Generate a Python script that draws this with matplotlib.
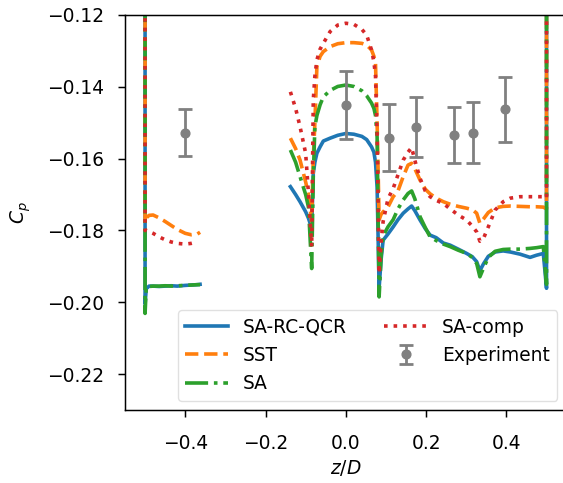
import numpy as np
import matplotlib
matplotlib.use("Agg")
import matplotlib.pyplot as plt

# Left face: vertical wall at z/D = -0.5 followed by the short plateau
z_left = [-0.5, -0.5, -0.497, -0.49, -0.48, -0.465, -0.45, -0.435, -0.42, -0.40, -0.385, -0.37, -0.363]
cp_left_sarc = [-0.10, -0.2005, -0.1962, -0.1955, -0.1955, -0.1956, -0.1955, -0.1954, -0.1955, -0.1953, -0.1952, -0.1951, -0.1950]
cp_left_sst = [-0.10, -0.1780, -0.1765, -0.1758, -0.1757, -0.1765, -0.1775, -0.1786, -0.1797, -0.1808, -0.1812, -0.1810, -0.1805]
cp_left_sa = [-0.10, -0.2031, -0.1958, -0.1956, -0.1955, -0.1955, -0.1954, -0.1955, -0.1954, -0.1953, -0.1952, -0.1951, -0.1951]
cp_left_comp = [-0.10, -0.1800, -0.1800, -0.1803, -0.1808, -0.1818, -0.1826, -0.1832, -0.1836, -0.1838, -0.1836, -0.1832, np.nan]

# Central section up to the wall at z/D = +0.5
z_mid = [-0.138, -0.125, -0.114, -0.100, -0.093, -0.085, -0.081, -0.077, -0.072, -0.064,
         -0.056, -0.039, -0.020, 0.000, 0.020, 0.040, 0.052, 0.064, 0.070, 0.074,
         0.078, 0.083, 0.088, 0.093, 0.105, 0.118, 0.130, 0.143, 0.155, 0.164,
         0.172, 0.185, 0.198, 0.210, 0.225, 0.243, 0.260, 0.280, 0.301, 0.315,
         0.326, 0.334, 0.343, 0.355, 0.372, 0.392, 0.410, 0.434, 0.459, 0.475,
         0.492, 0.500, 0.500]
cp_mid_sarc = [-0.1678, -0.1700, -0.1720, -0.1748, -0.1766, -0.1794, -0.1641, -0.1610, -0.1585, -0.1567,
               -0.1551, -0.1543, -0.1535, -0.1530, -0.1532, -0.1538, -0.1547, -0.1567, -0.1582, -0.1610,
               -0.1680, -0.1960, -0.1880, -0.1827, -0.1810, -0.1790, -0.1770, -0.1752, -0.1740, -0.1732,
               -0.1745, -0.1771, -0.1795, -0.1813, -0.1820, -0.1835, -0.1841, -0.1852, -0.1864, -0.1873,
               -0.1887, -0.1912, -0.1893, -0.1872, -0.1860, -0.1857, -0.1860, -0.1866, -0.1875, -0.1869,
               -0.1864, -0.1961, -0.1000]
cp_mid_sst = [-0.1543, -0.1572, -0.1604, -0.1665, -0.1700, -0.1775, -0.1600, -0.1500, -0.1344, -0.1315,
              -0.1302, -0.1288, -0.1280, -0.1277, -0.1277, -0.1279, -0.1284, -0.1297, -0.1315, -0.1335,
              -0.1500, -0.1770, -0.1755, -0.1748, -0.1735, -0.1706, -0.1690, -0.1650, -0.1618, -0.1613,
              -0.1628, -0.1660, -0.1685, -0.1698, -0.1710, -0.1720, -0.1727, -0.1733, -0.1738, -0.1742,
              -0.1752, -0.1780, -0.1768, -0.1750, -0.1737, -0.1733, -0.1732, -0.1733, -0.1734, -0.1734,
              -0.1735, -0.1740, -0.1000]
cp_mid_sa = [-0.1576, -0.1610, -0.1650, -0.1700, -0.1735, -0.1906, -0.1650, -0.1511, -0.1480, -0.1450,
             -0.1428, -0.1410, -0.1399, -0.1395, -0.1399, -0.1411, -0.1425, -0.1445, -0.1460, -0.1480,
             -0.1540, -0.1985, -0.1870, -0.1815, -0.1790, -0.1770, -0.1740, -0.1715, -0.1697, -0.1690,
             -0.1712, -0.1762, -0.1792, -0.1818, -0.1828, -0.1838, -0.1845, -0.1855, -0.1864, -0.1875,
             -0.1892, -0.1929, -0.1905, -0.1875, -0.1858, -0.1853, -0.1852, -0.1852, -0.1850, -0.1848,
             -0.1845, -0.1950, -0.1000]
cp_mid_comp = [-0.1414, -0.1460, -0.1511, -0.1585, -0.1697, -0.1845, -0.1437, -0.1370, -0.1325, -0.1295,
               -0.1279, -0.1246, -0.1228, -0.1223, -0.1226, -0.1240, -0.1256, -0.1297, -0.1330, -0.1370,
               -0.1530, -0.1920, -0.1830, -0.1775, -0.1712, -0.1683, -0.1645, -0.1604, -0.1582, -0.1569,
               -0.1605, -0.1655, -0.1690, -0.1706, -0.1716, -0.1725, -0.1740, -0.1757, -0.1771, -0.1788,
               -0.1804, -0.1830, -0.1822, -0.1790, -0.1743, -0.1720, -0.1710, -0.1706, -0.1706, -0.1706,
               -0.1706, -0.1710, -0.1000]

# Measurements with uncertainty
z_exp = [-0.40, 0.0, 0.108, 0.175, 0.270, 0.316, 0.397]
cp_exp = [-0.1528, -0.1451, -0.1542, -0.1512, -0.1535, -0.1528, -0.1463]
err_exp = [0.0065, 0.0095, 0.0093, 0.0084, 0.0078, 0.0085, 0.0090]

series = [
    ("SA-RC-QCR", "-", "tab:blue", cp_left_sarc, cp_mid_sarc),
    ("SST", "--", "tab:orange", cp_left_sst, cp_mid_sst),
    ("SA", "-.", "tab:green", cp_left_sa, cp_mid_sa),
    ("SA-comp", ":", "tab:red", cp_left_comp, cp_mid_comp),
]

s = 1.34
plt.rcParams.update({
    "font.size": 10 * s,
    "axes.linewidth": 0.8 * s,
    "xtick.major.size": 5,
    "ytick.major.size": 5,
    "xtick.major.width": 0.8 * s,
    "ytick.major.width": 0.8 * s,
    "xtick.major.pad": 12,
    "ytick.major.pad": 10,
    "legend.edgecolor": "0.85",
})

fig = plt.figure(figsize=(5.63, 4.83), dpi=100)
ax = fig.add_axes([125 / 563, 73 / 483, 441.6 / 563, 395 / 483])

for name, ls, color, cp_l, cp_m in series:
    ax.plot(z_left, cp_l, ls=ls, color=color, lw=2.6)
    ax.plot(z_mid, cp_m, ls=ls, color=color, lw=2.6, label=name)

ax.errorbar(z_exp, cp_exp, yerr=err_exp, fmt="o", color="grey", ms=6.3,
            elinewidth=2, capsize=5, capthick=2, label="Experiment")

ax.set_xlim(-0.55, 0.55)
ax.set_ylim(-0.23, -0.12)
ax.set_xlabel("$z/D$")
ax.set_ylabel("$C_p$", labelpad=10.4)
ax.legend(loc="lower right", ncol=2, handlelength=2.3)

fig.savefig("out.png", dpi=100)
